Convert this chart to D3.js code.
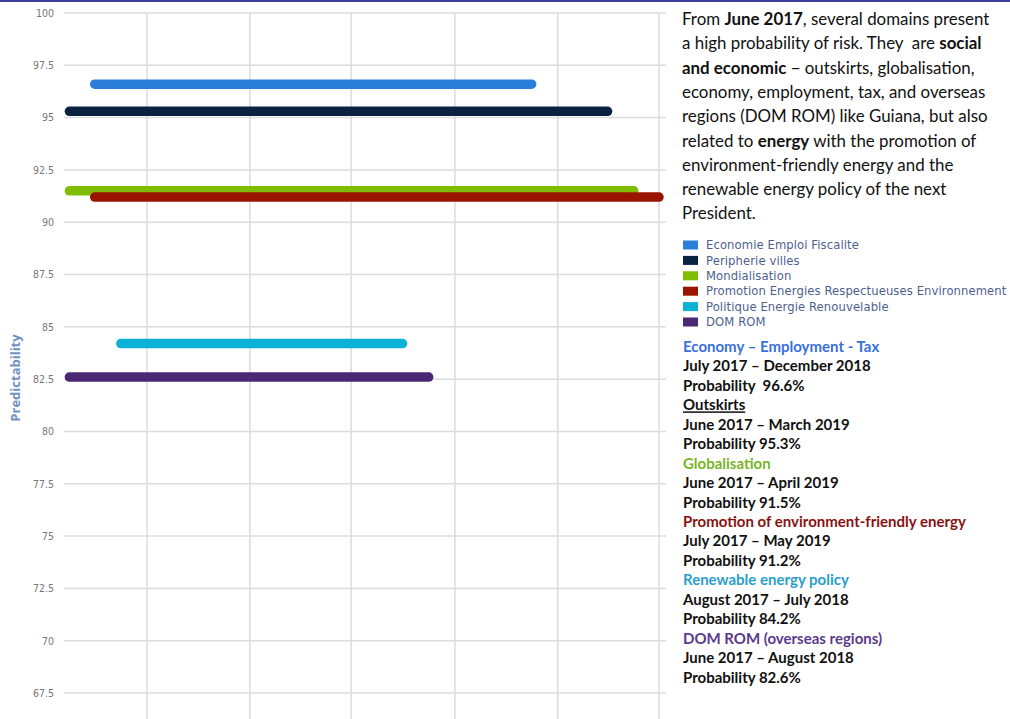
<!DOCTYPE html>
<html>
<head>
  <meta charset="utf-8" />
  <title>Predictability timeline</title>
  <script src="https://cdn.jsdelivr.net/npm/d3@7"></script>
  <style>
  body { margin: 0; background: #fff; }
  svg { display: block; }
  text { white-space: pre; }
  </style>
</head>
<body>
  <script>
  // data
  var categories = ["Economie Emploi Fiscalite", "Peripherie villes", "Mondialisation",
    "Promotion Energies Respectueuses Environnement", "Politique Energie Renouvelable", "DOM ROM"];
  var starts = ["2017-07", "2017-06", "2017-06", "2017-07", "2017-08", "2017-06"];
  var ends   = ["2018-12", "2019-03", "2019-04", "2019-05", "2018-07", "2018-08"];
  var values = [96.6, 95.3, 91.5, 91.2, 84.2, 82.6];
  var colors = ["#2b7fdb", "#0b2140", "#80bd00", "#991500", "#0cb1d6", "#4a2876"];

  var yTicks = [67.5, 70, 72.5, 75, 77.5, 80, 82.5, 85, 87.5, 90, 92.5, 95, 97.5, 100];
  var gridMonths = ["2017-09", "2018-01", "2018-05", "2018-09", "2019-01", "2019-05"];

  var titles = ["Economy \u2013 Employment - Tax", "Outskirts", "Globalisation",
    "Promotion of environment-friendly energy", "Renewable energy policy", "DOM ROM (overseas regions)"];
  var titleColors = ["#3a6fdc", "#111", "#78b526", "#8a1212", "#2c9ecb", "#5a3b8c"];
  var periods = ["July 2017 \u2013 December 2018", "June 2017 \u2013 March 2019", "June 2017 \u2013 April 2019",
    "July 2017 \u2013 May 2019", "August 2017 \u2013 July 2018", "June 2017 \u2013 August 2018"];
  var probLabels = ["Probability  96.6%", "Probability 95.3%", "Probability 91.5%",
    "Probability 91.2%", "Probability 84.2%", "Probability 82.6%"];

  var introLines = [
    [["From ", 0], ["June 2017", 1], [", several domains present", 0]],
    [["a high probability of risk. They  are ", 0], ["social", 1]],
    [["and economic", 1], [" \u2212 outskirts, globalisation,", 0]],
    [["economy, employment, tax, and overseas", 0]],
    [["regions (DOM ROM) like Guiana, but also", 0]],
    [["related to ", 0], ["energy", 1], [" with the promotion of", 0]],
    [["environment-friendly energy and the", 0]],
    [["renewable energy policy of the next", 0]],
    [["President.", 0]]
  ];

  var W = 1010, H = 719;
  var parse = d3.timeParse("%Y-%m");

  var svg = d3.select("body").append("svg")
    .attr("width", W)
    .attr("height", H);

  var x = d3.scaleTime()
    .domain([parse("2017-09"), parse("2019-05")])
    .range([147, 659]);
  var y = d3.scaleLinear()
    .domain([67.5, 100])
    .range([693, 13]);

  var left = 64, right = 666;

  // top rule
  svg.append("rect").attr("x", 0).attr("y", 0).attr("width", W).attr("height", 2).style("fill", "#3d3d9e");

  // grid
  svg.selectAll(".hgrid").data(yTicks).enter().append("line")
    .attr("x1", left).attr("x2", right)
    .attr("y1", function(d) { return y(d); }).attr("y2", function(d) { return y(d); })
    .style("stroke", "#dcdcdc").style("stroke-width", 1.5);

  svg.selectAll(".vgrid").data(gridMonths).enter().append("line")
    .attr("x1", function(d) { return x(parse(d)); }).attr("x2", function(d) { return x(parse(d)); })
    .attr("y1", y(100)).attr("y2", H)
    .style("stroke", "#dcdcdc").style("stroke-width", 1.5);

  // y axis labels
  var yAxis = d3.axisLeft(y).tickValues(yTicks).tickSize(0).tickPadding(0)
    .tickFormat(function(d) { return d3.format("")(d); });
  var gy = svg.append("g").attr("transform", "translate(54,0)").call(yAxis);
  gy.select(".domain").remove();
  gy.selectAll("text")
    .style("font-family", "'Liberation Sans Narrow', 'DejaVu Sans Condensed', sans-serif")
    .style("font-size", "10.5px")
    .style("fill", "#777");

  svg.append("text")
    .attr("transform", "translate(20,378) rotate(-90)")
    .attr("text-anchor", "middle")
    .style("font-family", "'Open Sans', sans-serif")
    .style("font-weight", "bold")
    .style("font-size", "13px")
    .style("fill", "#7191c4")
    .text("Predictability");

  // bars
  svg.selectAll(".bar").data(values).enter().append("line")
    .attr("x1", function(d, i) { return x(parse(starts[i])); })
    .attr("x2", function(d, i) { return x(parse(ends[i])); })
    .attr("y1", function(d) { return y(d); })
    .attr("y2", function(d) { return y(d); })
    .style("stroke", function(d, i) { return colors[i]; })
    .style("stroke-width", 9.5)
    .style("stroke-linecap", "round");

  // intro paragraph
  var intro = svg.append("text")
    .style("font-family", "Lato, 'Open Sans', sans-serif")
    .style("font-size", "16.9px")
    .style("fill", "#111");
  introLines.forEach(function(line, i) {
    line.forEach(function(seg, j) {
      var t = intro.append("tspan").text(seg[0]).style("font-weight", seg[1] ? "bold" : "normal");
      if (j == 0) t.attr("x", 682).attr("y", 25 + i * 24.3);
    });
  });

  // legend
  var legend = svg.selectAll(".legend").data(categories).enter().append("g")
    .attr("transform", function(d, i) { return "translate(683," + (245 + i * 15.4) + ")"; });
  legend.append("rect")
    .attr("x", 0).attr("y", -4.5).attr("width", 15).attr("height", 9)
    .style("fill", function(d, i) { return colors[i]; });
  legend.append("text")
    .attr("x", 23).attr("y", 4.2)
    .style("font-family", "'DejaVu Sans', sans-serif")
    .style("font-size", "11.6px")
    .style("letter-spacing", "0.1px")
    .style("fill", "#4e5f8f")
    .text(function(d) { return d; });

  // detail blocks
  var rowH = 19.45;
  var blocks = svg.selectAll(".block").data(titles).enter().append("g")
    .attr("transform", function(d, i) { return "translate(683," + (352 + i * 3 * rowH) + ")"; })
    .style("font-family", "Lato, 'Open Sans', sans-serif")
    .style("font-weight", "bold")
    .style("font-size", "15px");
  blocks.append("text")
    .style("fill", function(d, i) { return titleColors[i]; })
    .style("text-decoration", function(d, i) { return i == 1 ? "underline" : "none"; })
    .text(function(d) { return d; });
  blocks.append("text").attr("y", rowH).style("fill", "#111")
    .text(function(d, i) { return periods[i]; });
  blocks.append("text").attr("y", 2 * rowH).style("fill", "#111")
    .text(function(d, i) { return probLabels[i]; });
  </script>
</body>
</html>
